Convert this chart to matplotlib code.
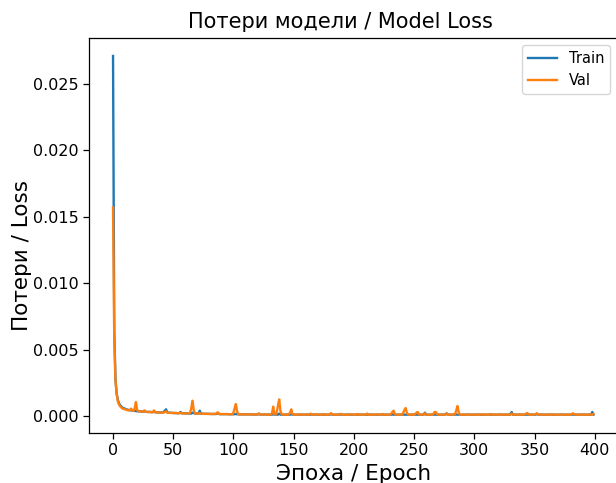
import numpy as np
import matplotlib
matplotlib.use("Agg")
import matplotlib.pyplot as plt

# Loss values in units of 1e-5
train_loss = [
    2710, 650, 280, 170, 120, 95, 80, 70, 62, 58, 55, 50, 48, 45, 44, 42, 40, 40, 38, 37,
    36, 35, 35, 34, 33, 33, 38, 32, 31, 30, 31, 30, 29, 29, 33, 28, 28, 27, 27, 26,
    26, 26, 30, 40, 50, 28, 25, 24, 24, 23, 23, 22, 22, 22, 21, 21, 30, 21, 20, 20,
    20, 19, 19, 19, 19, 18, 25, 22, 18, 18, 18, 17, 40, 17, 17, 17, 16, 16, 16, 16,
    16, 15, 15, 15, 15, 15, 15, 22, 15, 14, 14, 14, 14, 14, 14, 14, 13, 13, 13, 13,
    13, 13, 16, 13, 13, 12, 12, 12, 12, 12, 12, 12, 12, 12, 12, 11, 11, 11, 11, 11,
    11, 15, 11, 11, 11, 11, 11, 11, 11, 10, 10, 10, 10, 14, 10, 10, 10, 10, 18, 10,
    10, 10, 10, 10, 10, 10, 10, 10, 13, 10, 10, 10, 10, 10, 10, 10, 10, 10, 10, 10,
    10, 11, 10, 9, 10, 10, 11, 10, 10, 10, 9, 10, 10, 11, 10, 10, 10, 10, 10, 9,
    10, 15, 10, 10, 9, 10, 10, 11, 10, 10, 10, 10, 9, 10, 10, 11, 10, 10, 10, 10,
    10, 10, 9, 10, 10, 11, 10, 10, 10, 10, 9, 10, 10, 10, 11, 10, 10, 10, 9, 10,
    10, 10, 10, 11, 10, 10, 9, 10, 10, 10, 10, 10, 11, 10, 10, 10, 9, 10, 10, 10,
    10, 11, 10, 10, 10, 9, 10, 10, 10, 10, 11, 10, 10, 10, 10, 9, 10, 10, 10, 25,
    10, 10, 9, 10, 10, 10, 11, 10, 10, 10, 10, 9, 10, 10, 10, 10, 11, 20, 10, 10,
    9, 10, 10, 10, 10, 11, 10, 10, 10, 9, 10, 10, 10, 10, 10, 11, 10, 10, 9, 10,
    10, 10, 10, 11, 10, 10, 9, 10, 10, 10, 10, 10, 11, 10, 10, 9, 10, 10, 10, 10,
    10, 11, 10, 10, 9, 10, 10, 10, 10, 10, 11, 30, 10, 9, 10, 10, 10, 10, 11, 10,
    10, 9, 10, 10, 10, 10, 11, 10, 10, 10, 9, 10, 15, 10, 10, 10, 11, 10, 9, 10,
    10, 10, 10, 11, 10, 10, 9, 10, 10, 10, 10, 10, 11, 10, 10, 9, 10, 10, 10, 10,
    10, 11, 10, 10, 9, 10, 10, 10, 10, 10, 11, 10, 10, 9, 10, 10, 10, 10, 30, 10,
]

val_loss = [
    1570, 600, 270, 165, 110, 85, 72, 62, 56, 52, 50, 46, 44, 42, 45, 55, 40, 38, 60, 105,
    45, 36, 35, 34, 33, 32, 42, 32, 31, 30, 30, 29, 29, 28, 42, 28, 28, 27, 26, 26,
    26, 25, 25, 30, 35, 25, 24, 24, 23, 23, 22, 22, 22, 21, 21, 21, 24, 20, 20, 20,
    19, 19, 19, 18, 25, 60, 115, 45, 20, 18, 18, 17, 22, 17, 17, 16, 16, 16, 16, 16,
    15, 15, 15, 15, 15, 15, 22, 28, 15, 14, 14, 14, 14, 14, 14, 14, 13, 13, 13, 13,
    25, 60, 90, 35, 13, 12, 12, 12, 12, 12, 12, 12, 12, 12, 12, 11, 11, 11, 11, 11,
    11, 20, 11, 11, 11, 11, 11, 11, 11, 10, 10, 10, 20, 70, 15, 10, 30, 80, 125, 40,
    12, 10, 10, 10, 10, 10, 12, 25, 50, 15, 10, 10, 10, 10, 10, 14, 10, 10, 10, 10,
    10, 12, 10, 10, 18, 10, 10, 10, 10, 13, 10, 10, 10, 10, 10, 15, 10, 10, 10, 10,
    12, 22, 12, 10, 10, 10, 10, 10, 10, 16, 10, 10, 10, 10, 10, 10, 10, 10, 13, 10,
    10, 10, 10, 15, 10, 10, 10, 10, 10, 10, 10, 18, 10, 10, 10, 10, 10, 10, 10, 12,
    10, 10, 10, 10, 15, 10, 10, 10, 10, 10, 10, 18, 30, 40, 15, 10, 10, 10, 10, 10,
    10, 25, 45, 60, 25, 10, 10, 10, 10, 10, 10, 15, 25, 30, 12, 10, 10, 10, 10, 20,
    10, 10, 10, 10, 10, 10, 15, 30, 30, 15, 10, 10, 10, 10, 10, 10, 10, 18, 10, 10,
    10, 10, 10, 10, 15, 40, 75, 30, 10, 10, 10, 10, 10, 10, 10, 10, 10, 10, 12, 10,
    10, 10, 10, 10, 10, 10, 13, 10, 10, 10, 10, 10, 10, 10, 15, 10, 10, 10, 10, 10,
    10, 10, 10, 10, 10, 10, 12, 10, 10, 10, 10, 18, 10, 10, 10, 10, 10, 10, 10, 10,
    10, 10, 12, 18, 22, 12, 10, 10, 10, 10, 10, 15, 20, 12, 10, 10, 10, 10, 10, 10,
    10, 10, 10, 10, 10, 13, 10, 10, 10, 10, 10, 10, 10, 10, 10, 10, 10, 10, 10, 10,
    10, 15, 20, 12, 10, 10, 10, 10, 10, 10, 10, 10, 10, 10, 10, 10, 13, 10, 10, 15,
]

title = "Потери модели / Model Loss"
xlabel = "Эпоха / Epoch"
ylabel = "Потери / Loss"
series_names = ["Train", "Val"]

scale = 1e-5
epochs = np.arange(len(train_loss))

fig = plt.figure(figsize=(6.16, 4.83), dpi=100)
ax = fig.add_axes([0.1445, 0.1041, 0.858, 0.8172])
ax.plot(epochs, np.array(train_loss) * scale, color="#1f77b4", lw=1.7, label=series_names[0])
ax.plot(epochs, np.array(val_loss) * scale, color="#ff7f0e", lw=1.7, label=series_names[1])
ax.set_title(title, fontsize=15, pad=7, x=0.476)
ax.set_xlabel(xlabel, fontsize=15.5, labelpad=4)
ax.set_ylabel(ylabel, fontsize=15.5, labelpad=2)
ax.yaxis.set_label_coords(-0.107, 0.45)
ax.set_xticks(np.arange(0, 401, 50))
ax.set_yticks(np.arange(0, 0.0251, 0.005))
ax.yaxis.set_major_formatter(matplotlib.ticker.FormatStrFormatter("%.3f"))
ax.tick_params(labelsize=11.5, length=4, width=0.9)
for s in ax.spines.values():
    s.set_linewidth(0.9)
ax.legend(loc="upper right", fontsize=10.5)
fig.savefig("out.png", dpi=100)
